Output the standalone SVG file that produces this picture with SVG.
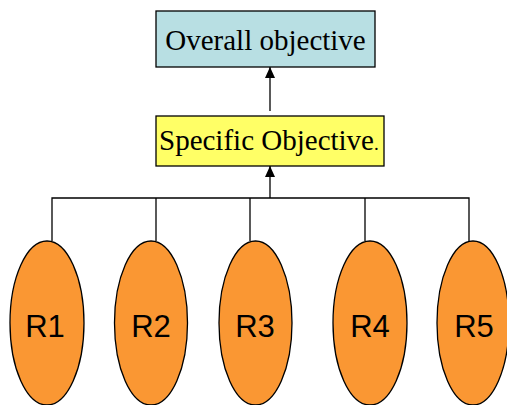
<svg xmlns="http://www.w3.org/2000/svg" width="507" height="405" viewBox="0 0 507 405">
<defs>
<style>
.box{stroke:#000;stroke-width:1.3}
.serif{font-family:"Liberation Serif","Times New Roman",serif;fill:#000}
.ell{fill:#fa9733;stroke:#000;stroke-width:1.3}
.rl{font-family:"Liberation Sans",Arial,sans-serif;font-size:31px;fill:#000;text-anchor:middle}
.con{stroke:#000;stroke-width:1.3;fill:none}
</style>
<marker id="ah" markerWidth="12" markerHeight="12" refX="11" refY="5" orient="auto" markerUnits="userSpaceOnUse">
<path d="M0,0 L11,5 L0,10 Z" fill="#000"/>
</marker>
</defs>
<g id="connectors">
<line class="con" x1="270" y1="111" x2="270" y2="67" marker-end="url(#ah)"/>
<line class="con" x1="270" y1="198" x2="270" y2="166" marker-end="url(#ah)"/>
<polyline class="con" points="52,241 52,198 469,198 469,241"/>
<line class="con" x1="156" y1="198" x2="156" y2="241"/>
<line class="con" x1="250" y1="198" x2="250" y2="241"/>
<line class="con" x1="365" y1="198" x2="365" y2="241"/>
</g>
<g id="overall">
<rect class="box" x="156" y="11" width="219" height="56" fill="#b8dfe3"/>
<text class="serif" x="265.5" y="50" font-size="29" text-anchor="middle">Overall objective</text>
</g>
<g id="specific">
<rect class="box" x="156" y="116" width="228" height="50" fill="#ffff66"/>
<text class="serif" x="159" y="150" font-size="29">Specific Objective<tspan font-size="19">.</tspan></text>
</g>
<g id="r1">
<ellipse class="ell" cx="47" cy="323" rx="37" ry="82"/>
<text class="rl" x="45" y="337">R1</text>
</g>
<g id="r2">
<ellipse class="ell" cx="151" cy="323" rx="36.5" ry="82"/>
<text class="rl" x="151" y="337">R2</text>
</g>
<g id="r3">
<ellipse class="ell" cx="255.5" cy="323" rx="36.5" ry="82"/>
<text class="rl" x="255" y="337">R3</text>
</g>
<g id="r4">
<ellipse class="ell" cx="370" cy="323" rx="37" ry="82"/>
<text class="rl" x="370" y="337">R4</text>
</g>
<g id="r5">
<ellipse class="ell" cx="473" cy="323" rx="36" ry="82"/>
<text class="rl" x="474" y="337">R5</text>
</g>
</svg>
